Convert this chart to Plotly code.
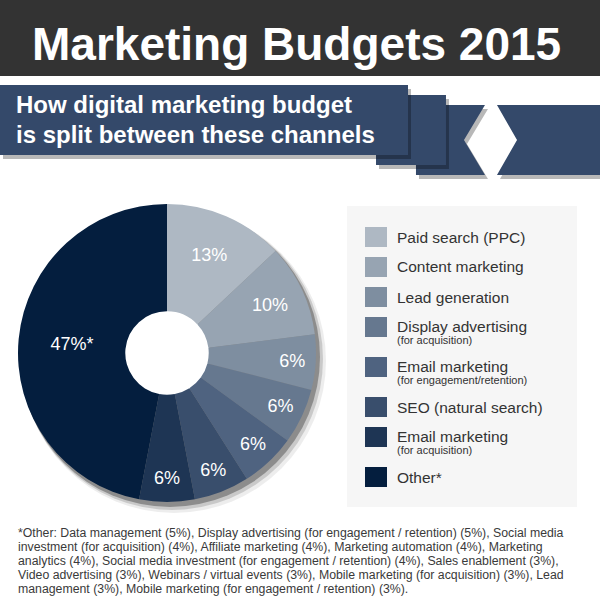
import plotly.graph_objects as go

channels = ['Paid search (PPC)', 'Content marketing', 'Lead generation',
            'Display advertising', 'Email marketing', 'SEO (natural search)',
            'Email marketing', 'Other*']
channel_notes = ['', '', '', '(for acquisition)', '(for engagement/retention)',
                 '', '(for acquisition)', '']
shares = [13, 10, 6, 6, 6, 6, 6, 47]
colors = ['#aeb8c3', '#97a4b2', '#7e8ea0', '#66788f',
          '#4f6380', '#394e6c', '#1e3554', '#041e3e']

title = 'Marketing Budgets 2015'
subtitle = ['How digital marketing budget', 'is split between these channels']
footnote = [
    '*Other: Data management (5%), Display advertising (for engagement / retention) (5%), Social media',
    'investment (for acquisition) (4%), Affiliate marketing (4%), Marketing automation (4%), Marketing',
    'analytics (4%), Social media investment (for engagement / retention) (4%), Sales enablement (3%),',
    'Video advertising (3%), Webinars / virtual events (3%), Mobile marketing (for acquisition) (3%), Lead',
    'management (3%), Mobile marketing (for engagement / retention) (3%).',
]

W, H = 600, 606
FONT = 'Liberation Sans, Arial, sans-serif'
BANNER = '#34496a'


def px(x):
    return x / W


def py(y):
    return 1 - y / H


def poly(points):
    return 'M ' + ' L '.join('%.4f,%.4f' % (px(x), py(y)) for x, y in points) + ' Z'


# unique names so the pie does not merge the two "Email marketing" slices
full_names = [(c + ' ' + n).strip() for c, n in zip(channels, channel_notes)]
slice_text = ['%d%%' % v for v in shares]
slice_text[-1] += '*'

CX, CY, R = 167, 353, 149
HOLE = 0.28

fig = go.Figure()
fig.add_trace(go.Pie(
    labels=full_names, values=shares, text=slice_text,
    textinfo='text', textposition='inside', insidetextorientation='horizontal',
    textfont=dict(family=FONT, size=18, color='white'),
    marker=dict(colors=colors, line=dict(width=0)),
    hole=HOLE, sort=False, direction='clockwise', rotation=0,
    domain=dict(x=[px(CX - R), px(CX + R)], y=[py(CY + R), py(CY - R)]),
    hoverinfo='label+percent',
))

shapes = []

# soft drop shadow behind the donut
for dx, dy, dr, a in [(7, 8, 3, 0.07), (5, 6, 2, 0.15), (3, 4, 1, 0.3)]:
    shapes.append(dict(type='circle', xref='paper', yref='paper', layer='below',
                       x0=px(CX + dx - R - dr), x1=px(CX + dx + R + dr),
                       y0=py(CY + dy + R + dr), y1=py(CY + dy - R - dr),
                       fillcolor='rgba(0,0,0,%s)' % a, line=dict(width=0)))
# keep the hole white
hr = R * HOLE + 1
shapes.append(dict(type='circle', xref='paper', yref='paper', layer='below',
                   x0=px(CX - hr), x1=px(CX + hr), y0=py(CY + hr), y1=py(CY - hr),
                   fillcolor='white', line=dict(width=0)))

# header bar
shapes.append(dict(type='rect', xref='paper', yref='paper', x0=0, x1=1,
                   y0=py(76), y1=1, fillcolor='#333333', line=dict(width=0)))

# ribbon banner, back to front
back = [(416, 105), (485, 105), (464, 140), (485, 175), (416, 175)]
right = [(497, 105), (600, 105), (600, 175), (497, 175), (517, 140)]
middle = [(376, 95), (446, 95), (446, 165), (376, 165)]
front = [(0, 85), (408, 85), (408, 155), (0, 155)]
for pts in [right, back, middle, front]:
    shadow = [(x + 3, y + 4) for x, y in pts]
    shapes.append(dict(type='path', xref='paper', yref='paper', path=poly(shadow),
                       fillcolor='rgba(0,0,0,0.28)', line=dict(width=0)))
    shapes.append(dict(type='path', xref='paper', yref='paper', path=poly(pts),
                       fillcolor=BANNER, line=dict(width=0)))

# legend panel
shapes.append(dict(type='rect', xref='paper', yref='paper', layer='below',
                   x0=px(347), x1=px(577), y0=py(507), y1=py(206),
                   fillcolor='#f6f6f6', line=dict(width=0)))

annotations = [
    dict(text='<b>%s</b>' % title, x=px(30), y=py(44), xanchor='left', yanchor='middle',
         font=dict(family=FONT, size=46, color='white')),
]
for i, line in enumerate(subtitle):
    annotations.append(dict(text='<b>%s</b>' % line, x=px(14), y=py(105 + 29 * i),
                            xanchor='left', yanchor='middle',
                            font=dict(family=FONT, size=24, color='white')))

# legend rows: one-line rows are 30px apart, two-line rows 40px
top = 227
for name, note, col in zip(channels, channel_notes, colors):
    mid = top + 10
    shapes.append(dict(type='rect', xref='paper', yref='paper',
                       x0=px(365), x1=px(387), y0=py(top + 20), y1=py(top),
                       fillcolor=col, line=dict(width=0)))
    annotations.append(dict(text=name, x=px(395), y=py(mid - 1 if note else mid),
                            xanchor='left', yanchor='middle',
                            font=dict(family=FONT, size=15.5, color='#333333')))
    if note:
        annotations.append(dict(text=note, x=px(395), y=py(mid + 13), xanchor='left',
                                yanchor='middle',
                                font=dict(family=FONT, size=11, color='#333333')))
    top += 40 if note else 30

for i, line in enumerate(footnote):
    annotations.append(dict(text=line, x=px(16), y=py(533 + 14 * i), xanchor='left',
                            yanchor='middle',
                            font=dict(family=FONT, size=12.3, color='#3a3a3a')))

for a in annotations:
    a.update(xref='paper', yref='paper', showarrow=False)

fig.update_layout(width=W, height=H, margin=dict(l=0, r=0, t=0, b=0),
                  paper_bgcolor='white', plot_bgcolor='white', showlegend=False,
                  shapes=shapes, annotations=annotations)

# drop the browser's default 8px body margin so the figure fills the window
fig.write_html('out.html', config={'displayModeBar': False},
               post_script="document.body.style.margin = '0';")
